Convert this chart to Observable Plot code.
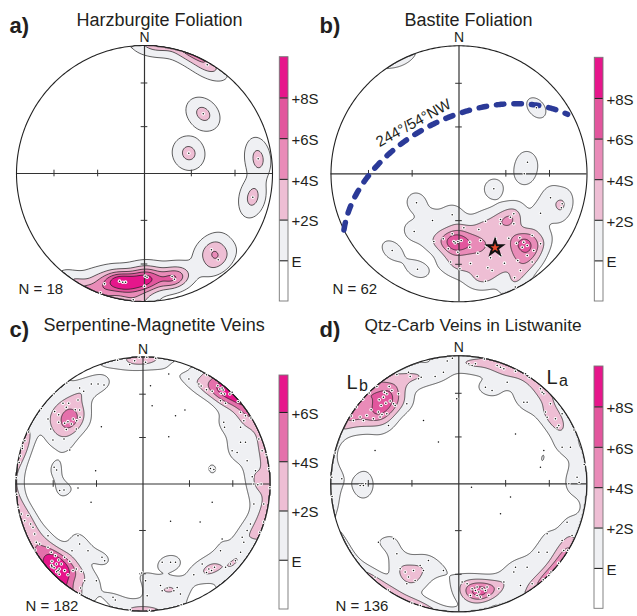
<!DOCTYPE html>
<html><head><meta charset="utf-8">
<script src="https://cdn.jsdelivr.net/npm/d3@7"></script>
<script src="https://cdn.jsdelivr.net/npm/@observablehq/plot@0.6"></script>
<style>
html,body{margin:0;padding:0;background:#fff;}
#root{position:relative;width:637px;height:616px;overflow:hidden;font-family:"Liberation Sans",Arial,sans-serif;}
#root svg{position:absolute;overflow:visible;}
</style></head><body><div id="root"></div>
<script>
// ---------------- DATA (poles in equal-area net coordinates, x = east, y = north, unit radius) ----------------
const polesA = [
 [0.49,0.85],[0.459,0.466],[0.346,0.159],[0.888,0.115],[0.846,-0.185],
 [0.523,-0.596],[0.576,-0.674],
 [-0.3125,-0.862],[-0.195,-0.841],[-0.148,-0.849],[0.005,-0.802],[0.0,-0.88],
 [0.216,-0.805],[0.234,-0.826],[-0.344,-0.932],[-0.088,-0.987],[0.02,-0.81],[-0.17,-0.85]
];
const polesB = [
 [0.272,-0.117],[-0.332,-0.226],[-0.207,-0.365],[-0.053,-0.32],[-0.35,-0.45],[-0.522,-0.6],[-0.324,-0.745],
 [0.715,-0.1875],[0.637,-0.308],[0.806,-0.234],[0.80,-0.265],[0.535,0.09],[0.51,0.0],[0.605,0.516],[0.44,-0.885],
 [-0.197,-0.529],[-0.123,-0.508],[-0.053,-0.469],[-0.04,-0.529],[-0.009,-0.529],[0.017,-0.521],[0.084,-0.534],
 [-0.084,-0.586],[-0.009,-0.612],[-0.066,-0.69],[0.007,-0.742],[0.09,-0.70],[0.155,-0.435],[0.168,-0.521],
 [0.207,-0.37],[0.147,-0.62],[0.215,-0.56],[0.246,-0.656],[0.259,-0.755],[0.142,-0.802],[0.207,-0.839],
 [0.225,-0.734],[0.324,-0.357],[0.324,-0.39],[0.402,-0.339],[0.428,-0.39],[0.389,-0.503],[0.324,-0.638],
 [0.355,-0.698],[0.449,-0.542],[0.475,-0.5],[0.506,-0.534],[0.533,-0.56],[0.494,-0.574],[0.572,-0.482],
 [0.584,-0.599],[0.637,-0.547],[0.533,-0.638],[0.459,-0.677],[0.434,-0.8125],[0.48,-0.755],[0.572,-0.69],
 [0.428,-0.3125],[0.285,-0.508],[0.084,-0.573],[0.038,-0.422],[-0.03,-0.54]
];
const polesC = [
 [-0.407,0.787],[-0.354,0.787],[-0.307,0.78],[-0.105,0.94],[-0.066,0.971],[-0.499,0.756],[-0.467,0.73],
 [-0.63,0.635],[-0.604,0.604],[-0.585,0.635],[-0.696,0.57],[-0.533,0.585],[-0.512,0.661],[-0.499,0.583],
 [-0.549,0.512],[-0.522,0.499],[-0.496,0.525],[-0.591,0.491],[-0.664,0.486],[-0.727,0.433],[-0.604,0.43],
 [-0.525,0.433],[-0.709,0.346],[-0.622,0.354],[-0.748,0.512],[-0.664,0.546],[-0.617,0.478],[-0.564,0.472],
 [-0.9,0.41],[-0.93,0.34],[-0.95,0.28],[-0.965,0.22],[-0.975,0.17],
 [-0.328,0.451],[-0.373,0.105],[-0.577,0.268],[-0.70,0.131],[-0.68,0.11],
 [-0.656,-0.052],[-0.622,-0.047],[-0.512,-0.031],[-0.409,-0.144],[-0.984,-0.184],[-0.958,-0.236],
 [-0.906,-0.249],[-0.932,-0.289],[-0.885,-0.315],[-0.866,-0.341],[-0.853,-0.394],[-0.84,-0.459],[-0.814,-0.472],
 [-0.748,-0.499],[-0.722,-0.538],[-0.69,-0.564],[-0.664,-0.598],[-0.617,-0.577],[-0.577,-0.609],[-0.717,-0.609],
 [-0.682,-0.63],[-0.643,-0.63],[-0.717,-0.651],[-0.617,-0.682],[-0.669,-0.682],[-0.591,-0.714],[-0.551,-0.682],
 [-0.525,-0.669],[-0.486,-0.688],[-0.459,-0.761],[-0.491,-0.819],[-0.499,-0.861],[-0.367,-0.761],[-0.302,-0.604],
 [-0.323,-0.577],[-0.433,-0.525],[-0.499,-0.472],[-0.512,-0.407],[-0.559,-0.525],[-0.748,-0.407],
 [-0.70,-0.66],[-0.68,-0.69],[-0.72,-0.64],[-0.66,-0.67],[-0.66,-0.71],
 [-0.236,-0.892],[-0.218,-0.913],
 [0.02,0.958],[0.203,0.866],[0.059,0.774],[0.072,0.617],[0.256,0.538],[0.33,0.583],[0.203,0.373],[0.361,0.827],
 [0.44,0.787],[0.458,0.772],[0.50,0.743],[0.545,0.73],[0.589,0.774],[0.616,0.714],[0.642,0.709],[0.684,0.709],
 [0.702,0.722],[0.623,0.756],[0.61,0.656],[0.65,0.635],[0.768,0.564],[0.807,0.538],[0.794,0.499],[0.768,0.446],
 [0.636,0.486],[0.642,0.446],[0.631,0.74],[0.605,0.748],
 [0.912,0.354],[0.938,0.262],[0.768,0.328],[0.807,0.328],[0.702,0.262],[0.741,0.249],[0.82,0.184],[0.531,0.123],
 [0.558,0.115],[0.886,0.105],[0.86,0.058],[0.873,0],[0.904,-0.005],[0.93,0],
 [0.545,-0.144],[0.217,-0.294],[0.873,-0.157],[0.951,-0.157],[0.846,-0.315],[0.82,-0.367],[0.781,-0.42],
 [0.794,-0.459],[0.768,-0.538],[0.728,-0.604],[0.689,-0.63],[0.65,-0.656],[0.623,-0.433],[0.61,-0.525],
 [0.518,-0.669],[0.54,-0.682],[0.50,-0.696],[0.563,-0.656],[0.466,-0.63],[0.40,-0.714],
 [0.151,-0.617],[0.217,-0.617],[0.256,-0.617],
 [0.138,-0.80],[0.151,-0.84],[0.269,-0.814],[0.295,-0.866],[0.243,-0.84],[0.19,-0.819],[0.033,-0.879],[0.02,-0.761],
 [-0.03,0.999],[0.03,0.999],[0.1,0.99],[-0.2,0.975],[-0.6,0.795],[-0.7,0.71],[-0.8,0.595],[-0.998,0.05],
 [-0.995,-0.08],[0.999,-0.03],[0.99,0.12],[0.97,0.23],[0.95,-0.3],[0.92,-0.38],[0.3,-0.95],[0.05,-0.995],
 [-0.1,-0.99],[0.85,0.52],[0.75,0.65],[0.5,0.86],[-0.85,-0.52],[-0.95,0.3],[-0.01,-0.7],[0.45,-0.3]
];
const polesD = [
 [-0.544,0.76],[-0.523,0.729],[-0.5625,0.703],[-0.589,0.677],[-0.622,0.656],[-0.536,0.646],[-0.57,0.63],
 [-0.51,0.625],[-0.685,0.578],[-0.628,0.56],[-0.5625,0.547],[-0.497,0.612],[-0.6,0.542],[-0.719,0.534],
 [-0.771,0.521],[-0.823,0.495],[-0.745,0.495],[-0.667,0.508],[-0.615,0.521],[-0.471,0.703],[-0.581,0.716],[-0.607,0.612],
 [-0.64,0.76],[-0.7,0.71],[-0.75,0.66],[-0.8,0.6],[-0.84,0.53],[-0.484,0.854],
 [-0.393,0.872],[-0.38,0.839],[-0.315,0.82],[-0.294,0.833],[-0.185,0.839],[-0.12,0.872],[-0.09,0.96],[-0.05,0.98],
 [-0.406,0.625],[-0.276,0.495],[-0.549,0.456],[-0.159,0.326],[-0.654,0.26],[-0.771,-0.013],[-0.745,-0.013],
 [-0.727,0],[-0.016,0.664],[-0.992,0.052],[-0.914,0.039],[-0.966,0.24],
 [-0.484,-0.547],[-0.458,-0.664],[-0.419,-0.69],[-0.393,-0.729],[-0.354,-0.677],[-0.276,-0.677],[-0.302,-0.638],
 [-0.406,-0.781],[-0.341,-0.755],[-0.12,-0.677],[-0.237,-0.599],[-0.654,-0.729],[-0.628,-0.456],[-0.51,-0.43],[-0.367,-0.932],
 [0.078,0.9375],[0.104,0.924],[0.13,0.9375],[0.30,0.924],[0.326,0.911],[0.352,0.898],[0.443,0.88],[0.521,0.859],
 [0.208,0.755],[0.26,0.729],[0.378,0.794],[0.508,0.638],[0.534,0.638],[0.443,0.39],
 [0.638,0.742],[0.651,0.716],[0.664,0.703],[0.677,0.56],[0.69,0.52],[0.755,0.508],[0.781,0.456],[0.768,0.4375],
 [0.807,0.547],[0.716,0.625],
 [0.664,0.26],[0.807,0.286],[0.872,0.286],[0.638,0.13],[0.924,0.052],[0.099,-0.026],[0.404,-0.104],[0.326,-0.234],
 [0.846,-0.3],[0.885,-0.404],[0.807,-0.443],[0.82,-0.521],[0.69,-0.39],[0.625,-0.534],[0.69,-0.534],[0.534,-0.651],
 [0.703,-0.716],[0.443,-0.651],[0.43,-0.69],[0.482,-0.794],[0.573,-0.781],[0.352,-0.768],
 [0.104,-0.82],[0.13,-0.833],[0.143,-0.807],[0.156,-0.846],[0.182,-0.82],[0.208,-0.833],[0.221,-0.807],
 [0.169,-0.885],[0.091,-0.872],[0.143,-0.872],[0.234,-0.872],[0.065,-0.781],[0.3125,-0.82],[0.026,-0.768],
 [0.86,0],[0.94,0.01],[0.78,-0.62],[0.72,-0.69],[0.66,-0.75],[0.85,-0.52],
 [0.2,0.975],[0.55,0.83],[0.9,0.42],[0.98,0.15],[-0.3,-0.95],[-0.55,-0.83],[-0.99,-0.1]
];
const planeB = {strike: 244, dip: 54, dipSide: "NW"};
const titles = ["Harzburgite Foliation", "Bastite Foliation", "Serpentine-Magnetite Veins", "Qtz-Carb Veins in Listwanite"];
const letters = ["a)", "b)", "c)", "d)"];
const nLabels = [18, 62, 182, 136];
const levelsABD = [0, 2, 4, 6, 8];           // contour levels in S above E
const levelsC = [0, 2, 4, 6];
const barLabelsABD = [{v:0,t:"E"},{v:2,t:"+2S"},{v:4,t:"+4S"},{v:6,t:"+6S"},{v:8,t:"+8S"}];
const barLabelsC = [{v:0,t:"E"},{v:2,t:"+2S"},{v:4,t:"+4S"},{v:6,t:"+6S"}];
const barBoundsABD = [-2, 0, 2, 4, 6, 8, 10];
const barBoundsC = [-2, 0, 2, 4, 6, 7.5];
const netTickPlunges = [30, 60];
// counting kernel: concentration k and how S is estimated for each panel
const kernelK = [100, 120, 100, 100];
const sigmaMode = ["kernel", "kamb", "kamb", "kamb"];

// ---------------- styles ----------------
const COL = {white:"#ffffff", grey:"#eff0f3", lp:"#eebed4", mp:"#e98bb8", dp:"#e2569d", mag:"#e6168b", mpc:"#e470ab"};
const colorsABD = [COL.white, COL.grey, COL.lp, COL.mp, COL.dp, COL.mag];
const colorsC = [COL.white, COL.grey, COL.lp, COL.mpc, COL.mag];
const FONT = "Liberation Sans, Arial, Helvetica, sans-serif";
const INK = "#231f20";

// ---------------- geometry helpers ----------------
const SQ2 = Math.SQRT2, RAD = Math.PI/180;
function netToVec(x, y) {
  const r = Math.hypot(x, y);
  if (r === 0) return [0, 0, -1];
  const phi = 2*Math.asin(Math.min(1, r/SQ2));
  const s = Math.sin(phi)/r;
  return [x*s, y*s, -Math.cos(phi)];
}
function vecToNet(v) {
  let [e, n, u] = v;
  if (u > 0) { e = -e; n = -n; u = -u; }
  const h = Math.hypot(e, n);
  if (h === 0) return [0, 0];
  const phi = Math.acos(Math.max(-1, Math.min(1, -u)));
  const r = SQ2*Math.sin(phi/2);
  return [e/h*r, n/h*r];
}
function tpVec(trend, plunge) {
  const t = trend*RAD, p = plunge*RAD;
  return [Math.cos(p)*Math.sin(t), Math.cos(p)*Math.cos(t), -Math.sin(p)];
}
// smoothed (exponential) Kamb counting on axial data; result in S units above E
function kambField(poles, k, mode) {
  const V = poles.map(p => netToVec(p[0], p[1]));
  const N = V.length, A = 1/k, E = N*A;
  const S = mode === "kernel" ? Math.sqrt(N*(1/(2*k) - 1/(k*k))) : Math.sqrt(N*A*(1 - A));
  const z = (x, y) => {
    const v = netToVec(x, y);
    let c = 0;
    for (const w of V) {
      const d = Math.abs(v[0]*w[0] + v[1]*w[1] + v[2]*w[2]);
      c += Math.exp(k*(d - 1));
    }
    return (c - E)/S;
  };
  return (x, y) => {
    const r = Math.hypot(x, y);
    if (r <= 1) return z(x, y);
    return z(x/r, y/r) - 3000*(r - 1);
  };
}
const circle = d3.range(0, 361, 1).map(a => [Math.cos(a*RAD), Math.sin(a*RAD)]);
const tickR = netTickPlunges.flatMap(p => { const r = SQ2*Math.sin((90 - p)/2*RAD); return [r, -r]; });

// great circle and pole of the bastite plane
const sVec = tpVec(planeB.strike, 0), dVec = tpVec(planeB.strike + 90, planeB.dip);
const greatCircle = d3.range(0, 201).map(i => {
  const u = i/200*(Math.PI - 0.08);
  return vecToNet([0,1,2].map(j => Math.cos(u)*sVec[j] + Math.sin(u)*dVec[j]));
});
const poleB = vecToNet(tpVec(planeB.strike + 270, 90 - planeB.dip));

// ---------------- layout ----------------
const PANELS = [
  {i:0, poles:polesA, levels:levelsABD, colors:colorsABD, ox:0, oy:0, w:318, h:310, cx:144, cy:173, R:128,
   letter:[9,32], title:[76,25], tsize:18, nlab:[18,293]},
  {i:1, poles:polesB, levels:levelsABD, colors:colorsABD, ox:318, oy:0, w:319, h:310, cx:458.5, cy:173.3, R:128,
   letter:[319,32], title:[404,25], tsize:18, nlab:[332,293]},
  {i:2, poles:polesC, levels:levelsC, colors:colorsC, ox:0, oy:310, w:318, h:306, cx:142.5, cy:483.5, R:127,
   letter:[9,336.5], title:[43,330], tsize:18, nlab:[25,610]},
  {i:3, poles:polesD, levels:levelsABD, colors:colorsABD, ox:318, oy:310, w:319, h:306, cx:458.3, cy:483.3, R:128,
   letter:[319,336.5], title:[364,330], tsize:17.3, nlab:[335,610]}
];
const BARS = [
  {bounds:barBoundsABD, colors:colorsABD, labels:barLabelsABD, left:270, top:50, w:60, h:258, bx0:279.3, bx1:288, by0:56.7, by1:301},
  {bounds:barBoundsABD, colors:colorsABD, labels:barLabelsABD, left:585, top:50, w:52, h:258, bx0:594.3, bx1:603, by0:57.3, by1:301},
  {bounds:barBoundsC, colors:colorsC, labels:barLabelsC, left:270, top:366, w:60, h:250, bx0:279, bx1:288, by0:375, by1:609},
  {bounds:barBoundsABD, colors:colorsABD, labels:barLabelsABD, left:585, top:360, w:52, h:256, bx0:594, bx1:603, by0:366, by1:608.3}
];

const root = document.getElementById("root");
function place(svg, left, top) { svg.style.left = left + "px"; svg.style.top = top + "px"; root.appendChild(svg); }

function buildPanel(P) {
  const mL = P.cx - P.R - P.ox, mR = P.ox + P.w - (P.cx + P.R);
  const mT = P.cy - P.R - P.oy, mB = P.oy + P.h - (P.cy + P.R);
  const at = (px, py) => ({frameAnchor: "top-left", dx: px - P.ox - mL, dy: py - P.oy - mT});
  const txt = (s, px, py, o = {}) => Plot.text([s], {text: d => d, ...at(px, py), textAnchor: "start", lineAnchor: "bottom", fill: INK, fontSize: 15, ...o});
  const field = kambField(P.poles, kernelK[P.i], sigmaMode[P.i]);
  const marks = [
    Plot.contour({fill: field, x1: -1, y1: -1, x2: 1, y2: 1, thresholds: P.levels, pixelSize: 1, stroke: "#1a1a1a", strokeWidth: 0.7}),
    Plot.ruleX([0], {y1: -1, y2: 1, stroke: "#333", strokeWidth: 1.2}),
    Plot.ruleY([0], {x1: -1, x2: 1, stroke: "#333", strokeWidth: 1.2}),
    Plot.ruleX(tickR, {y1: -0.026, y2: 0.026, stroke: "#333", strokeWidth: 1}),
    Plot.ruleY(tickR, {x1: -0.026, x2: 0.026, stroke: "#333", strokeWidth: 1}),
    Plot.line(circle, {x: d => d[0], y: d => d[1], stroke: "#222", strokeWidth: 1.1})
  ];
  if (P.i === 1) {
    marks.push(Plot.line(greatCircle, {x: d => d[0], y: d => d[1], stroke: "#2b3a98", strokeWidth: 5.5, strokeDasharray: "7.5,10", strokeLinecap: "round"}));
  }
  marks.push(
    Plot.dot(P.poles, {x: d => d[0], y: d => d[1], r: 1.8, fill: "white"}),
    Plot.dot(P.poles, {x: d => d[0], y: d => d[1], r: 0.75, fill: "#111"})
  );
  if (P.i === 1) {
    marks.push(Plot.dot([poleB], {x: d => d[0], y: d => d[1], symbol: "star", r: 4.8, fill: "#e8472a", stroke: "#111", strokeWidth: 2}));
    marks.push(txt(`${planeB.strike}°/${planeB.dip}°${planeB.dipSide}`, 413, 122.5, {textAnchor: "middle", lineAnchor: "middle", rotate: -29, fontSize: 15}));
  }
  if (P.i === 3) {
    marks.push(txt("L", 346, 388.5, {fontSize: 20}), txt("b", 358.5, 390, {fontSize: 16}));
    marks.push(txt("L", 546, 383.5, {fontSize: 20}), txt("a", 558.5, 385.5, {fontSize: 16}));
  }
  marks.push(
    Plot.text(["N"], {x: 0, y: 1, text: d => d, dy: -3.5, lineAnchor: "bottom", fontSize: 14, fill: INK}),
    txt(letters[P.i], P.letter[0], P.letter[1], {fontSize: 22, fontWeight: "bold"}),
    txt(titles[P.i], P.title[0], P.title[1], {fontSize: P.tsize}),
    txt(`N = ${nLabels[P.i]}`, P.nlab[0], P.nlab[1], {fontSize: 15})
  );
  const dom = P.levels.slice(1).map(v => v - 1);
  return Plot.plot({
    width: P.w, height: P.h, marginLeft: mL, marginRight: mR, marginTop: mT, marginBottom: mB,
    x: {domain: [-1, 1], axis: null}, y: {domain: [-1, 1], axis: null},
    color: {type: "threshold", domain: dom, range: P.colors.slice(1)},
    style: {fontFamily: FONT, background: "none", overflow: "visible"},
    marks
  });
}

function buildBar(B) {
  const segs = B.bounds.slice(0, -1).map((lo, i) => ({lo, hi: B.bounds[i + 1], c: B.colors[i]}));
  const lo = B.bounds[0], hi = B.bounds[B.bounds.length - 1];
  return Plot.plot({
    width: B.w, height: B.h,
    marginLeft: B.bx0 - B.left, marginRight: B.left + B.w - B.bx1,
    marginTop: B.by0 - B.top, marginBottom: B.top + B.h - B.by1,
    x: {domain: [0, 1], axis: null}, y: {domain: [lo, hi], axis: null},
    color: {type: "identity"},
    style: {fontFamily: FONT, background: "none", overflow: "visible"},
    marks: [
      Plot.rect(segs, {x1: 0, x2: 1, y1: "lo", y2: "hi", fill: "c"}),
      Plot.ruleY(B.labels, {y: "v", x1: 0, x2: 1, stroke: "#222", strokeWidth: 1.1}),
      Plot.rect([0], {x1: 0, x2: 1, y1: lo, y2: hi, fill: "none", stroke: "#777", strokeWidth: 0.9}),
      Plot.text(B.labels, {x: 1, y: "v", text: "t", dx: 3, dy: 1.5, textAnchor: "start", lineAnchor: "middle", fontSize: 15, fill: INK})
    ]
  });
}

PANELS.forEach(P => place(buildPanel(P), P.ox, P.oy));
BARS.forEach(B => place(buildBar(B), B.left, B.top));
</script></body></html>
